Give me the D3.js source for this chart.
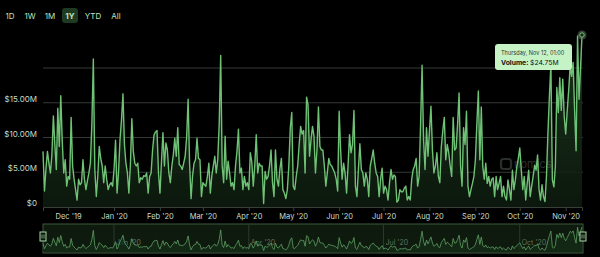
<!DOCTYPE html>
<html>
<head>
<meta charset="utf-8">
<script src="https://cdn.jsdelivr.net/npm/d3@7"></script>
<style>
  html, body { margin: 0; padding: 0; background: #000; }
  svg { display: block; font-family: Inter, "Open Sans", sans-serif; }
</style>
</head>
<body>
<svg id="chart" width="600" height="257"></svg>
<script>
// daily volume in $M, starting Nov 14 2019 01:00
const startDate = new Date(2019, 10, 14, 1);
const volume = [
  8.0, 2.3, 5.5, 8.0, 6.3, 4.9, 7.5, 13.1, 9.0, 5.4,
  14.2, 8.7, 16.0, 9.5, 4.9, 6.8, 3.0, 4.4, 4.0, 12.9,
  5.9, 4.0, 2.5, 1.0, 4.0, 3.2, 3.5, 6.8, 4.0, 2.5,
  3.8, 4.9, 6.3, 12.0, 21.3, 5.4, 1.5, 4.5, 8.7, 7.0,
  5.9, 3.5, 5.9, 4.0, 2.5, 3.2, 3.5, 3.0, 5.5, 9.6,
  2.0, 5.0, 9.7, 12.5, 16.3, 9.0, 6.3, 4.9, 2.0, 6.0,
  12.7, 8.0, 6.3, 5.9, 6.3, 3.5, 4.2, 4.0, 4.5, 4.4,
  4.9, 2.0, 4.4, 4.9, 8.2, 10.4, 10.8, 11.0, 4.9, 2.0,
  6.5, 10.7, 5.9, 9.2, 8.2, 4.9, 3.5, 5.9, 7.5, 9.9,
  7.3, 11.4, 6.1, 5.9, 5.4, 6.3, 7.3, 10.0, 15.5, 6.3,
  1.2, 4.5, 6.3, 6.8, 9.9, 7.0, 6.8, 1.5, 3.5, 3.2,
  3.0, 4.4, 6.3, 2.0, 4.5, 5.9, 7.3, 4.9, 6.8, 12.0,
  21.8, 5.9, 3.5, 10.2, 4.0, 6.6, 4.9, 3.0, 3.5, 2.5,
  5.9, 8.0, 11.2, 4.9, 5.6, 2.5, 4.4, 3.0, 3.5, 2.5,
  7.8, 6.5, 3.0, 5.9, 10.4, 4.9, 6.3, 5.9, 5.9, 0.5,
  5.1, 4.0, 4.4, 6.0, 8.2, 3.5, 1.5, 8.2, 4.0, 3.0,
  5.5, 7.0, 2.5, 2.0, 1.2, 2.5, 5.9, 11.4, 13.6, 3.0,
  2.5, 4.4, 5.9, 9.0, 11.6, 10.5, 11.0, 4.9, 15.8, 14.7,
  7.3, 9.7, 11.6, 10.2, 4.9, 8.2, 14.4, 8.7, 8.2, 8.2,
  5.9, 3.0, 4.9, 7.0, 6.1, 5.9, 5.4, 4.9, 4.0, 2.3,
  13.8, 8.2, 4.0, 6.3, 4.9, 2.0, 5.9, 10.4, 7.8, 9.0,
  13.9, 3.0, 1.5, 5.4, 9.1, 5.4, 4.9, 3.0, 4.9, 4.0,
  1.5, 5.9, 7.0, 8.2, 6.3, 4.9, 4.4, 1.5, 4.0, 5.6,
  2.0, 3.0, 2.5, 1.0, 3.5, 5.4, 4.0, 4.6, 4.4, 0.7,
  1.0, 2.5, 2.2, 2.2, 2.7, 3.0, 1.0, 1.5, 1.0, 4.0,
  5.4, 5.9, 7.0, 3.0, 4.4, 12.0, 20.4, 9.7, 5.4, 11.4,
  7.3, 11.0, 14.5, 8.2, 4.9, 5.9, 7.8, 4.4, 3.5, 8.7,
  11.0, 12.9, 6.8, 9.0, 7.8, 5.9, 4.4, 12.9, 8.2, 8.5,
  12.0, 16.4, 5.9, 3.0, 11.4, 9.0, 13.8, 3.0, 1.5, 2.5,
  3.4, 4.4, 6.8, 12.0, 16.7, 6.8, 14.4, 5.8, 4.0, 6.3,
  3.4, 4.4, 3.0, 4.0, 4.2, 1.5, 4.4, 2.5, 3.4, 4.4,
  1.5, 3.0, 1.5, 1.0, 3.9, 2.5, 1.0, 5.3, 2.5, 3.9,
  5.8, 7.0, 8.5, 5.3, 2.5, 4.4, 1.0, 3.4, 5.3, 1.5,
  3.0, 4.4, 6.0, 5.3, 7.5, 2.5, 1.0, 3.2, 1.5, 0.8,
  4.4, 10.7, 16.0, 20.5, 3.9, 2.9, 5.8, 17.2, 13.6, 18.6,
  13.9, 18.4, 13.0, 10.5, 13.8, 16.8, 20.3, 18.8, 20.8, 14.0,
  8.1, 24.6, 15.5, 20.0, 24.75
];
const yTicks = [0, 5, 10, 15, 20];
const yTickLabels = ['$0', '$5.00M', '$10.00M', '$15.00M', ''];
const buttons = ['1D', '1W', '1M', '1Y', 'YTD', 'All'];
const activeButton = '1Y';
const navTicks = [new Date(2020, 0, 1), new Date(2020, 3, 1), new Date(2020, 6, 1), new Date(2020, 9, 1)];

const data = volume.map((v, i) => ({ date: d3.timeDay.offset(startDate, i), value: v }));

const svg = d3.select('#chart');
const lineColor = '#6ec175';
const textColor = '#c9dcc9';

const x = d3.scaleTime()
  .domain(d3.extent(data, d => d.date))
  .range([43, 582]);
const y = d3.scaleLinear()
  .domain([0, 20])
  .range([207, 68]);

// gradient for area
const defs = svg.append('defs');
const grad = defs.append('linearGradient')
  .attr('id', 'areaGrad')
  .attr('x1', 0).attr('y1', 0).attr('x2', 0).attr('y2', 1);
grad.append('stop').attr('offset', '0%').attr('stop-color', '#1d3a1f').attr('stop-opacity', 0.9);
grad.append('stop').attr('offset', '100%').attr('stop-color', '#0d1a0e').attr('stop-opacity', 0.9);

// range buttons
const btnX = [10, 30, 50, 70, 93, 116];
buttons.forEach((b, i) => {
  if (b === activeButton) {
    svg.append('rect')
      .attr('x', btnX[i] - 8).attr('y', 8)
      .attr('width', 16).attr('height', 15)
      .attr('rx', 3)
      .attr('fill', '#1f3a22');
  }
  svg.append('text')
    .attr('x', btnX[i]).attr('y', 18.5)
    .attr('text-anchor', 'middle')
    .attr('font-size', 8)
    .attr('font-weight', b === activeButton ? 700 : 400)
    .attr('fill', '#bfe6bf')
    .text(b);
});

// grid
const grid = svg.append('g');
grid.selectAll('line')
  .data(yTicks.filter(t => t > 0))
  .enter().append('line')
  .attr('x1', 43).attr('x2', 583)
  .attr('y1', d => y(d)).attr('y2', d => y(d))
  .attr('stroke', '#343a34')
  .attr('stroke-width', 1);

grid.selectAll('text')
  .data(yTicks)
  .enter().append('text')
  .attr('x', 37)
  .attr('y', d => y(d) - 1)
  .attr('text-anchor', 'end')
  .attr('font-size', 8)
  .attr('fill', textColor)
  .text((d, i) => yTickLabels[i]);

// area and line
const area = d3.area()
  .x(d => x(d.date))
  .y0(y(0))
  .y1(d => y(d.value));
const line = d3.line()
  .x(d => x(d.date))
  .y(d => y(d.value));

svg.append('path')
  .datum(data)
  .attr('d', area)
  .attr('fill', 'url(#areaGrad)');

// watermark
const wm = svg.append('g').attr('opacity', 0.3);
wm.append('rect')
  .attr('x', 501).attr('y', 159).attr('width', 10).attr('height', 10)
  .attr('rx', 2.5).attr('fill', 'none').attr('stroke', '#8a9a8a').attr('stroke-width', 2.2);
wm.append('text')
  .attr('x', 514).attr('y', 168)
  .attr('font-size', 11)
  .attr('fill', '#8a9a8a')
  .text('nomics');

svg.append('path')
  .datum(data)
  .attr('d', line)
  .attr('fill', 'none')
  .attr('stroke', lineColor)
  .attr('stroke-width', 1.4)
  .attr('stroke-linejoin', 'round');

// x axis
const xAxis = d3.axisBottom(x)
  .ticks(d3.timeMonth.every(1))
  .tickFormat(d3.timeFormat("%b '%y"))
  .tickSize(4)
  .tickPadding(3);
const xAxisG = svg.append('g')
  .attr('transform', `translate(0, ${y(0)})`)
  .call(xAxis);
xAxisG.select('.domain').attr('stroke', '#3a3f3a');
xAxisG.selectAll('line').attr('stroke', '#3a3f3a');
xAxisG.selectAll('text')
  .attr('fill', textColor)
  .attr('font-size', 7.5)
  .attr('font-family', 'Inter, "Open Sans", sans-serif');

// hovered point + tooltip
const last = data[data.length - 1];
svg.append('circle')
  .attr('cx', x(last.date)).attr('cy', y(last.value))
  .attr('r', 4.5)
  .attr('fill', '#5c6b5c').attr('opacity', 0.6);
svg.append('circle')
  .attr('cx', x(last.date)).attr('cy', y(last.value))
  .attr('r', 2.2)
  .attr('fill', '#1a2a1a').attr('stroke', lineColor).attr('stroke-width', 1);

const tip = svg.append('g').attr('transform', 'translate(495, 44)');
tip.append('rect')
  .attr('width', 77).attr('height', 26)
  .attr('rx', 3)
  .attr('fill', '#c6f3c6');
tip.append('text')
  .attr('x', 6).attr('y', 10.5)
  .attr('font-size', 5.6)
  .attr('fill', '#333')
  .text(d3.timeFormat('%A, %b %d, %H:%M')(last.date));
const t2 = tip.append('text')
  .attr('x', 6).attr('y', 20.5)
  .attr('font-size', 6.8)
  .attr('fill', '#111');
t2.append('tspan').attr('font-weight', 700).text('Volume: ');
t2.append('tspan').text('$' + last.value.toFixed(2) + 'M');

// navigator
const nav = svg.append('g');
const navY = d3.scaleLinear()
  .domain([0, d3.max(volume)])
  .range([251, 227]);
nav.append('rect')
  .attr('x', 43).attr('y', 224)
  .attr('width', 540).attr('height', 29)
  .attr('fill', '#0e1a0e')
  .attr('stroke', '#3c5a3c')
  .attr('stroke-width', 1);
nav.selectAll('.navGrid')
  .data(navTicks)
  .enter().append('line')
  .attr('x1', d => x(d)).attr('x2', d => x(d))
  .attr('y1', 224).attr('y2', 253)
  .attr('stroke', '#2a3a2a');
nav.selectAll('.navLabel')
  .data(navTicks)
  .enter().append('text')
  .attr('x', d => x(d) + 2)
  .attr('y', 245)
  .attr('font-size', 7)
  .attr('fill', '#5e755e')
  .text(d => d3.timeFormat("%b '%y")(d));
nav.append('path')
  .datum(data)
  .attr('d', d3.area().x(d => x(d.date)).y0(252).y1(d => navY(d.value)))
  .attr('fill', '#142a16')
  .attr('opacity', 0.8);
nav.append('path')
  .datum(data)
  .attr('d', d3.line().x(d => x(d.date)).y(d => navY(d.value)))
  .attr('fill', 'none')
  .attr('stroke', '#5f9f63')
  .attr('stroke-width', 0.8);

// navigator handles
[43, 583].forEach(hx => {
  nav.append('rect')
    .attr('x', hx - 3).attr('y', 232)
    .attr('width', 6).attr('height', 9)
    .attr('fill', '#0b160b')
    .attr('stroke', '#a8d8a8')
    .attr('stroke-width', 1);
  [-1, 1].forEach(o => {
    nav.append('line')
      .attr('x1', hx + o).attr('x2', hx + o)
      .attr('y1', 234.5).attr('y2', 238.5)
      .attr('stroke', '#a8d8a8')
      .attr('stroke-width', 0.7);
  });
});
</script>
</body>
</html>
